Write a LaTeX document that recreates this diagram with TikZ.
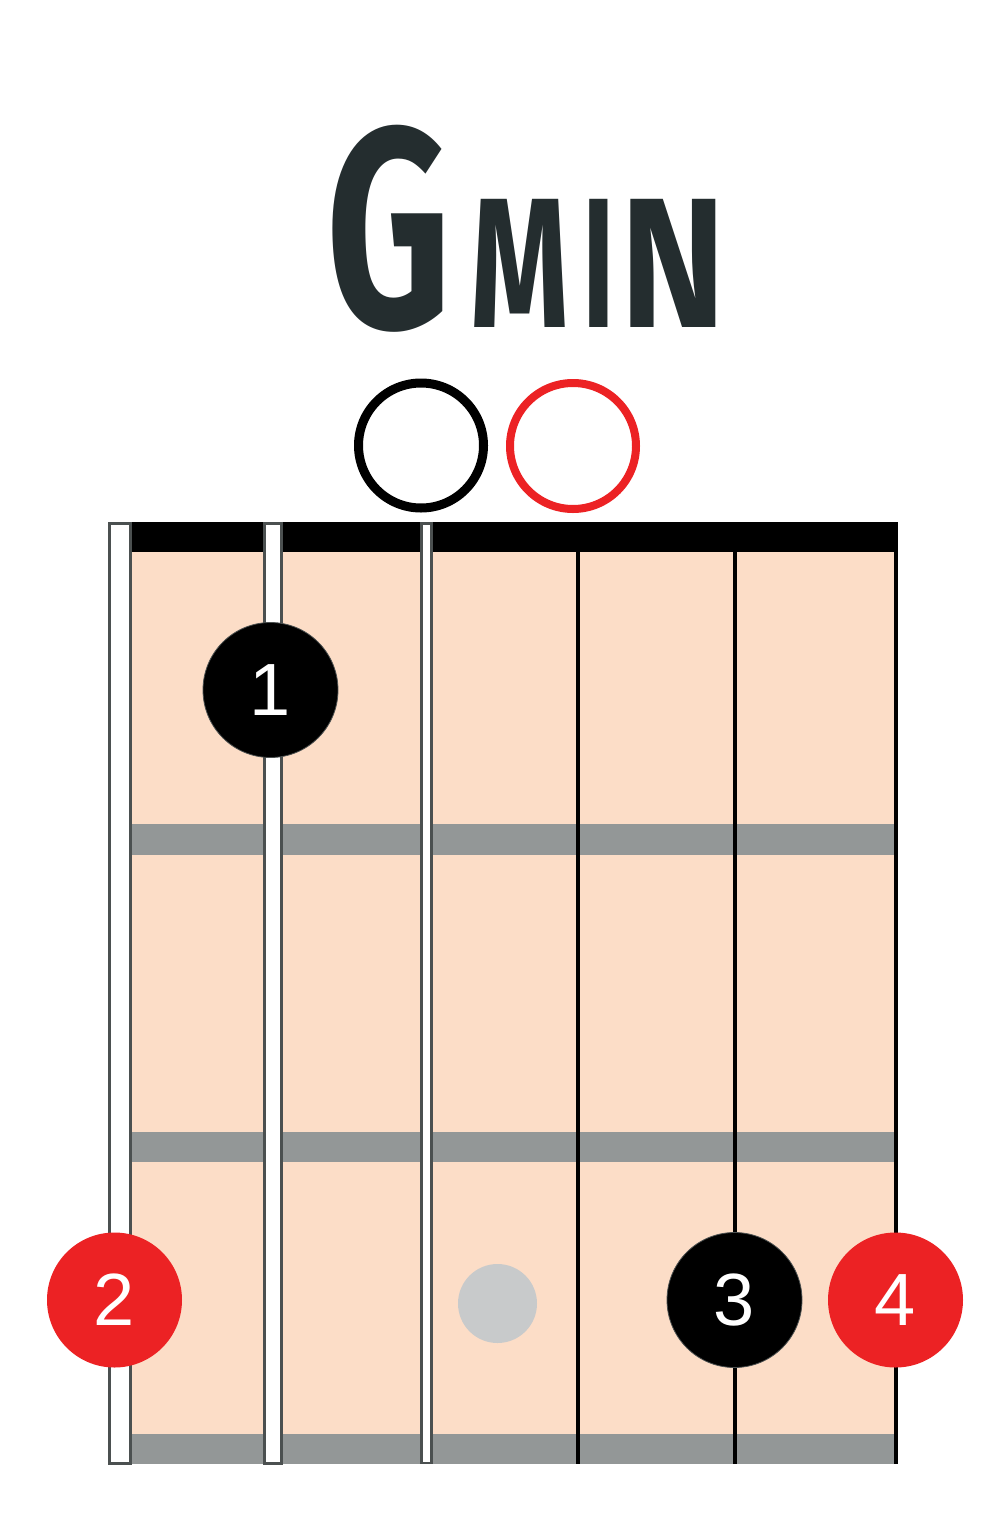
\documentclass[tikz,border=0pt]{standalone}
\usepackage{fontspec}
\setmainfont{Liberation Sans}
\newfontfamily\titlefont{Fira Sans}
\definecolor{peach}{HTML}{FCDDC7}
\definecolor{fretgrey}{HTML}{939797}
\definecolor{strgrey}{HTML}{4B5050}
\definecolor{chordred}{HTML}{EC2224}
\definecolor{titledark}{HTML}{242D2F}
\definecolor{dotgrey}{HTML}{C8CACB}
\tikzset{
  fretbar/.style={fill=fretgrey, draw=none},
  hollowstring/.style={fill=white, draw=strgrey, line width=3pt},
  solidstring/.style={draw=black, line width=4pt},
  opencircle/.style={circle, minimum size=125pt, inner sep=0pt, fill=white},
  finger/.style={circle, minimum size=135pt, inner sep=0pt, text=white,
    font=\fontsize{74}{74}\selectfont},
  blackfinger/.style={finger, fill=black, draw=strgrey, line width=0.8pt},
  redfinger/.style={finger, fill=chordred},
  greydot/.style={circle, minimum size=79pt, inner sep=0pt, fill=dotgrey},
}
\begin{document}
\begin{tikzpicture}[x=1pt,y=-1pt]
\useasboundingbox (0,0) rectangle (1000,1534);
\fill[white] (0,0) rectangle (1000,1534);
% title
\node[anchor=base west, text=titledark, inner sep=0pt] (title) at (326,327)
  {\titlefont\bfseries
   \scalebox{0.68}[1]{\fontsize{285}{285}\selectfont G}\kern19pt
   \fontsize{185}{185}\selectfont
   \scalebox{0.68}[1]{M}\kern13pt\scalebox{0.6}[1]{I}\kern6pt\scalebox{0.86}[1]{N}};
% fretboard body
\fill[peach] (131,550) rectangle (894,1464);
% frets
\fill[fretbar] (131,824) rectangle (894,855);
\fill[fretbar] (131,1132) rectangle (894,1162);
\fill[fretbar] (131,1434) rectangle (894,1464);
% nut
\fill[black] (108,522) rectangle (898,552);
% strings
\draw[hollowstring] (109.5,523.5) rectangle (130,1463);
\draw[hollowstring] (264.5,523.5) rectangle (281.5,1463);
\draw[hollowstring, line width=2.5pt] (421.5,523.5) rectangle (431.5,1463);
\draw[solidstring] (578,522) -- (578,1464);
\draw[solidstring] (735,522) -- (735,1464);
\draw[solidstring] (896,522) -- (896,1464);
% open strings
\node[opencircle, draw=black, line width=9pt] (open3) at (421,445.5) {};
\node[opencircle, draw=chordred, line width=8pt, minimum size=126pt] (open4) at (573,446) {};
% fingers
\node[blackfinger] (f1) at (270.5,690) {1};
\node[redfinger] (f2) at (114.5,1300) {2};
\node[greydot] (gd) at (497.5,1303.5) {};
\node[blackfinger] (f3) at (734.5,1300) {3};
\node[redfinger] (f4) at (895.5,1300) {4};
\end{tikzpicture}
\end{document}
